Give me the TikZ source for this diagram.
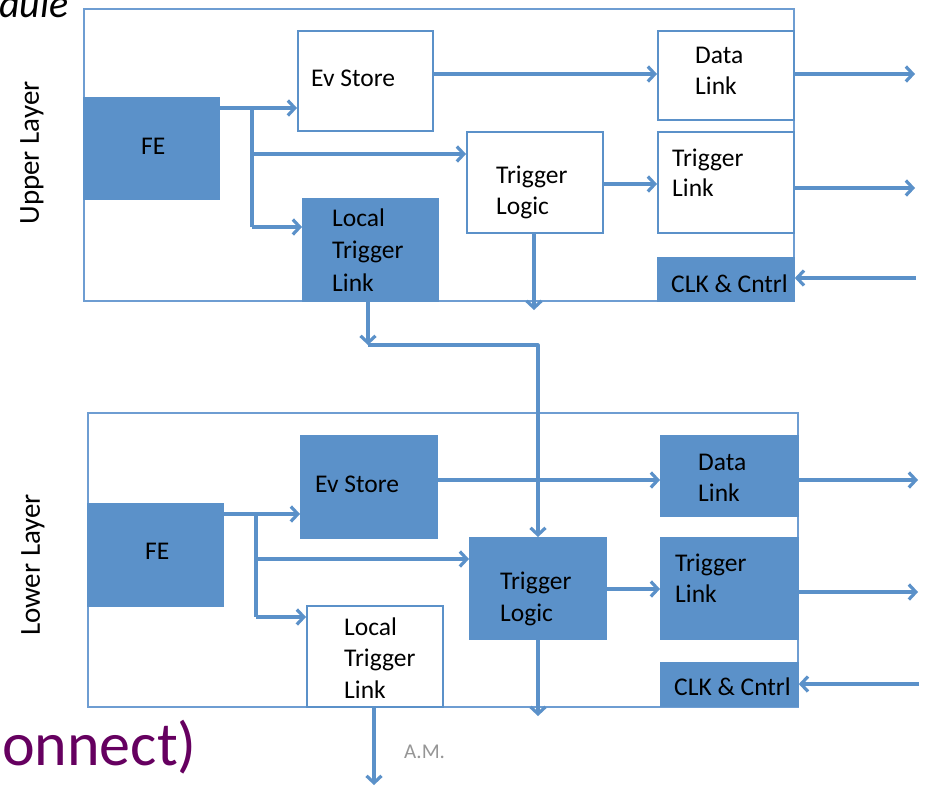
\documentclass[tikz,border=0pt]{standalone}
\usepackage{fontspec}
\setmainfont{Carlito}
\usetikzlibrary{arrows.meta}
\definecolor{bfill}{HTML}{5B91C9}
\definecolor{bline}{HTML}{6E9DD2}
\definecolor{slidepurple}{RGB}{102,0,96}
\definecolor{amgray}{RGB}{150,150,150}

\begin{document}
\begin{tikzpicture}[x=1pt,y=-1pt,
  frame/.style={rectangle, inner sep=0pt, anchor=north west, draw=bline, line width=1.5pt},
  box/.style={rectangle, inner sep=0pt, anchor=north west, draw=bfill, line width=1.8pt},
  solidbox/.style={box, fill=bfill},
  openbox/.style={box, fill=white},
  arr/.style={draw=bfill, line width=3.2pt, -{Straight Barb[length=7pt,width=15pt]}},
  wire/.style={draw=bfill, line width=3.2pt},
  txt/.style={anchor=base west, inner sep=0pt, font=\fontsize{25.5}{29}\selectfont},
  sidelbl/.style={rotate=90, inner sep=0pt, font=\fontsize{29}{29}\selectfont}
]
\useasboundingbox (0,0) rectangle (928,788);
\fill[white] (0,0) rectangle (928,788);

% slide fragments
\node[anchor=base west, inner sep=0pt, font=\fontsize{40}{40}\selectfont\itshape] (title) at (-1,17) {dule};
\node[anchor=base west, inner sep=0pt, text=slidepurple, font=\fontsize{62}{62}\selectfont] (tail) at (2,765) {onnect)};
\node[anchor=base west, inner sep=0pt, text=amgray, font=\fontsize{21}{21}\selectfont] (author) at (404,758) {A.M.};

% ---------------- upper layer ----------------
\node[frame, minimum width=710pt, minimum height=292pt] (uFrame) at (83,8) {};
\node[sidelbl] (uLbl) at (32,153) {Upper Layer};

\node[solidbox, minimum width=135pt, minimum height=101pt] (uFE) at (83,97) {};
\node[openbox, minimum width=135pt, minimum height=100pt] (uEv) at (297,30) {};
\node[openbox, minimum width=136pt, minimum height=89pt] (uDL) at (657,30) {};
\node[openbox, minimum width=136pt, minimum height=101pt] (uTL) at (657,131) {};
\node[openbox, minimum width=136pt, minimum height=101pt] (uLogic) at (466,131) {};
\node[solidbox, minimum width=135pt, minimum height=102pt] (uLTL) at (302,198) {};
\node[solidbox, minimum width=136pt, minimum height=43pt] (uClk) at (657,257) {};

\node[txt] at (141,154) {FE};
\node[txt] at (311,86) {Ev Store};
\node[txt] at (695,63) {Data};
\node[txt] at (695,94) {Link};
\node[txt] at (672,166) {Trigger};
\node[txt] at (672,196) {Link};
\node[txt] at (496,183) {Trigger};
\node[txt] at (496,214) {Logic};
\node[txt] at (332,226) {Local};
\node[txt] at (332,258) {Trigger};
\node[txt] at (332,291) {Link};
\node[txt] at (671,292) {CLK \& Cntrl};

\coordinate (uSplit) at (252,108);
\coordinate (uMid) at (252,154);
\coordinate (uLow) at (252,227);
\coordinate (uDataY) at (0,74);
\coordinate (uTrigY) at (0,184);
\coordinate (uDataOut) at (915,74);
\coordinate (uTrigOut) at (915,188);
\coordinate (uClkIn) at (916,278);
\coordinate (uLogicDown) at (534,310);
\coordinate (uBend) at (368,345);

\draw[arr] (uFE.east |- uSplit) -- (uEv.west |- uSplit);
\draw[wire] (uSplit) -- (uLow);
\draw[arr] (uMid) -- (uLogic.west |- uMid);
\draw[arr] (uLow) -- (uLTL.west |- uLow);
\draw[arr] (uEv.east |- uDataY) -- (uDL.west |- uDataY);
\draw[arr] (uDL.east |- uDataOut) -- (uDataOut);
\draw[arr] (uLogic.east |- uTrigY) -- (uTL.west |- uTrigY);
\draw[arr] (uTL.east |- uTrigOut) -- (uTrigOut);
\draw[arr] (uClkIn) -- (uClk.east |- uClkIn);
\draw[arr] (uLogic.south -| uLogicDown) -- (uLogicDown);
\draw[arr] (uLTL.south -| uBend) -- (uBend);

% ---------------- lower layer ----------------
\node[frame, minimum width=710pt, minimum height=294pt] (lFrame) at (87,412) {};
\node[sidelbl] (lLbl) at (33,565) {Lower Layer};

\node[solidbox, minimum width=135pt, minimum height=102pt] (lFE) at (87,503) {};
\node[solidbox, minimum width=136pt, minimum height=102pt] (lEv) at (300,435) {};
\node[solidbox, minimum width=137pt, minimum height=80pt] (lDL) at (660,435) {};
\node[solidbox, minimum width=137pt, minimum height=101pt] (lTL) at (660,537) {};
\node[solidbox, minimum width=136pt, minimum height=101pt] (lLogic) at (469,537) {};
\node[openbox, minimum width=136pt, minimum height=101pt] (lLTL) at (306,605) {};
\node[solidbox, minimum width=137pt, minimum height=43pt] (lClk) at (660,662) {};

\node[txt] at (145,559) {FE};
\node[txt] at (315,492) {Ev Store};
\node[txt] at (698,470) {Data};
\node[txt] at (698,501) {Link};
\node[txt] at (675,571) {Trigger};
\node[txt] at (675,602) {Link};
\node[txt] at (500,589) {Trigger};
\node[txt] at (500,621) {Logic};
\node[txt] at (344,635) {Local};
\node[txt] at (344,666) {Trigger};
\node[txt] at (344,698) {Link};
\node[txt] at (674,695) {CLK \& Cntrl};

\coordinate (lSplit) at (256,514);
\coordinate (lMid) at (256,559);
\coordinate (lLow) at (256,617);
\coordinate (lDataY) at (0,480);
\coordinate (lTrigY) at (0,589);
\coordinate (lDataOut) at (918,480);
\coordinate (lTrigOut) at (918,592);
\coordinate (lClkIn) at (919,684);
\coordinate (lLogicDown) at (538,716);
\coordinate (lLinkDown) at (374,785);

\draw[arr] (lFE.east |- lSplit) -- (lEv.west |- lSplit);
\draw[wire] (lSplit) -- (lLow);
\draw[arr] (lMid) -- (lLogic.west |- lMid);
\draw[arr] (lLow) -- (lLTL.west |- lLow);
\draw[arr] (lEv.east |- lDataY) -- (lDL.west |- lDataY);
\draw[arr] (lDL.east |- lDataOut) -- (lDataOut);
\draw[arr] (lLogic.east |- lTrigY) -- (lTL.west |- lTrigY);
\draw[arr] (lTL.east |- lTrigOut) -- (lTrigOut);
\draw[arr] (lClkIn) -- (lClk.east |- lClkIn);
\draw[arr] (lLogic.south -| lLogicDown) -- (lLogicDown);
\draw[arr] (lLTL.south -| lLinkDown) -- (lLinkDown);

% link from the upper local trigger link into the lower trigger logic
\draw[arr, line join=round] (uBend) -- (uBend -| lLogicDown) -- (lLogic.north -| lLogicDown);
\end{tikzpicture}
\end{document}
